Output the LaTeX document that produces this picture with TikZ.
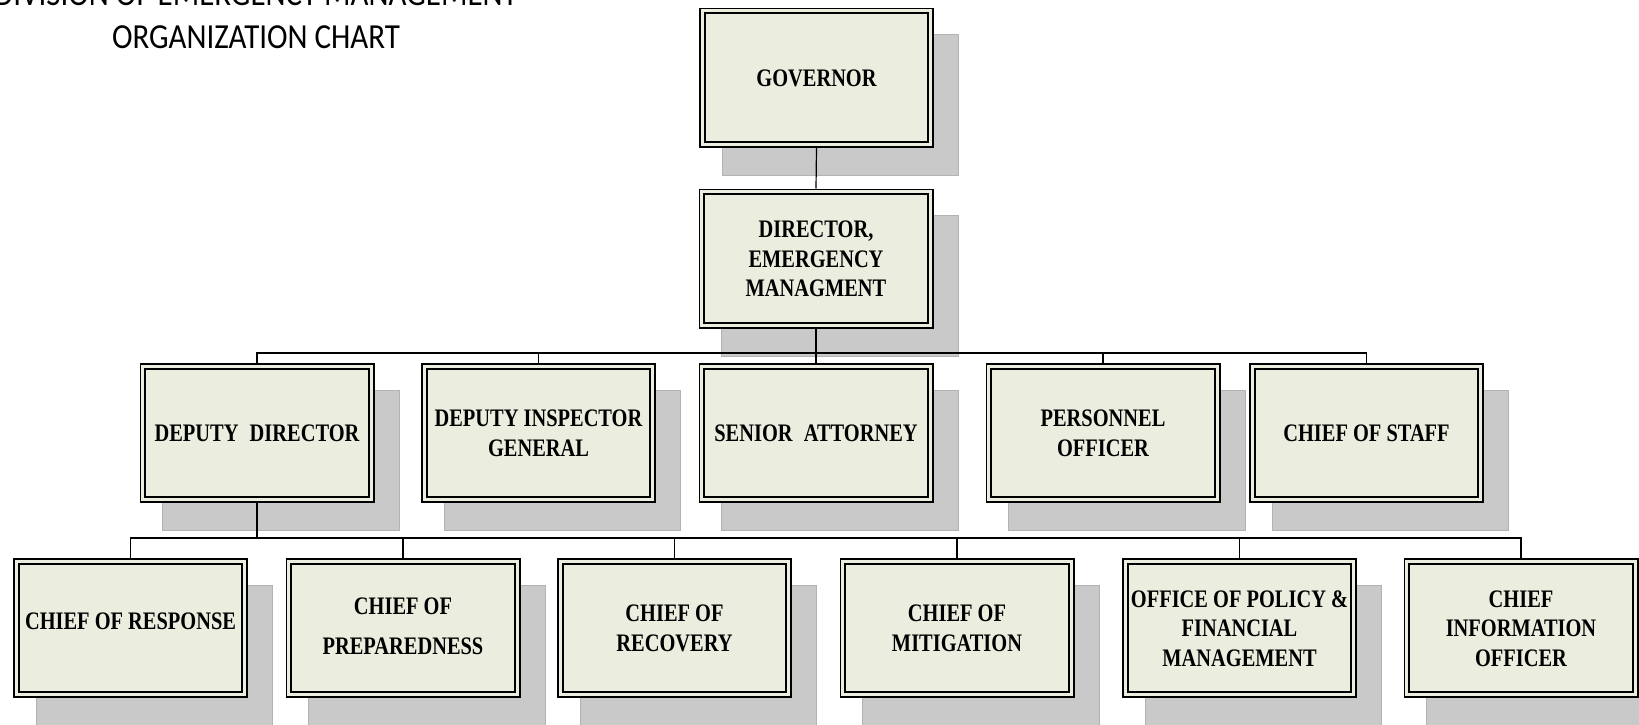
\documentclass[tikz,border=0pt]{standalone}
\usepackage{graphicx}
\usepackage{fontspec}
\newfontfamily\boxfont{Liberation Serif}
\newfontfamily\titlefont{Carlito}
\definecolor{boxfill}{HTML}{EBEDDE}
\definecolor{shadowc}{HTML}{C9C9C9}
\definecolor{shadowedge}{HTML}{B3B3B3}
\pgfdeclarelayer{shadow}
\pgfdeclarelayer{lines}
\pgfsetlayers{shadow,lines,main}
\newcommand{\bxt}[1]{\raisebox{-1.4pt}[\height][\depth]{\scalebox{0.81}[1]{\boxfont\bfseries\fontsize{12.6}{14.7}\selectfont\begin{tabular}{@{}c@{}}#1\end{tabular}}}}
\newcommand{\ttl}[1]{\scalebox{0.88}[1]{\titlefont\fontsize{17.6}{20}\selectfont #1}}
\begin{document}
\begin{tikzpicture}[x=0.5pt,y=-0.5pt,
  orgbox/.style={draw=black, line width=0.9pt, double=boxfill, double distance=1.5pt,
    fill=boxfill, minimum width=114.2pt, minimum height=66.7pt, inner sep=0pt, outer sep=1.65pt},
  conn/.style={line width=0.6pt},
  trunk/.style={line width=1.1pt},
  shadowbox/.style={fill=shadowc, draw=shadowedge, line width=0.5pt},
  titletext/.style={anchor=base, inner sep=0pt}]
\useasboundingbox (0,0) rectangle (1639,724);
\clip (0,0) rectangle (1639,724);

% title
\node[titletext] (t1) at (256,5) {\ttl{DIVISION OF EMERGENCY MANAGEMENT}};
\node[titletext] (t2) at (256,48) {\ttl{ORGANIZATION CHART}};

% level 1-2
\node[orgbox] (gov) at (816.5,77.5) {\bxt{GOVERNOR}};
\node[orgbox] (dir) at (816,258.5) {\bxt{DIRECTOR,\\EMERGENCY\\MANAGMENT}};

% level 3
\node[orgbox] (dd)  at (257,433)    {\bxt{DEPUTY\hspace{0.55em}DIRECTOR}};
\node[orgbox] (dig) at (538.5,433)  {\bxt{DEPUTY INSPECTOR\\GENERAL}};
\node[orgbox] (sa)  at (816,433)    {\bxt{SENIOR\hspace{0.55em}ATTORNEY}};
\node[orgbox] (po)  at (1103,433)   {\bxt{PERSONNEL\\OFFICER}};
\node[orgbox] (cos) at (1366.5,433) {\bxt{CHIEF OF STAFF}};

% level 4
\node[orgbox] (cr)   at (130.5,628)  {\raisebox{3.5pt}[\height][\depth]{\bxt{CHIEF OF RESPONSE}}};
\node[orgbox] (cp)   at (403,628)    {\raisebox{1.2pt}[\height][\depth]{\bxt{CHIEF OF\\[5.2pt]PREPAREDNESS}}};
\node[orgbox] (crec) at (674.5,628)  {\bxt{CHIEF OF\\RECOVERY}};
\node[orgbox] (cm)   at (957,628)    {\bxt{CHIEF OF\\MITIGATION}};
\node[orgbox] (opf)  at (1239.5,628) {\bxt{OFFICE OF POLICY \&\\FINANCIAL\\MANAGEMENT}};
\node[orgbox] (cio)  at (1521,628)   {\bxt{CHIEF\\INFORMATION\\OFFICER}};

\coordinate (b1) at (816,353);
\coordinate (b2) at (257,538);

\begin{pgfonlayer}{shadow}
  \foreach \n in {gov,dir,dd,dig,sa,po,cos,cr,cp,crec,cm,opf,cio}
    \draw[shadowbox] ([shift={(23,27)}]\n.north west) rectangle ([shift={(24.5,27.5)}]\n.south east);
\end{pgfonlayer}

\begin{pgfonlayer}{lines}
  \draw[conn] (gov.south) -- (dir.north);
  \draw[trunk] (dir.south) -- (b1);
  \draw[conn] (b1) -- (sa.north);
  \draw[conn] (dd.north) |- (b1) -| (cos.north);
  \draw[conn] (dig.north) -- (dig.north |- b1);
  \draw[conn] (po.north) -- (po.north |- b1);
  \draw[trunk] (dd.south) -- (b2);
  \draw[conn] (cr.north) |- (b2) -| (cio.north);
  \draw[conn] (cp.north) -- (cp.north |- b2);
  \draw[conn] (crec.north) -- (crec.north |- b2);
  \draw[conn] (cm.north) -- (cm.north |- b2);
  \draw[conn] (opf.north) -- (opf.north |- b2);
\end{pgfonlayer}
\end{tikzpicture}
\end{document}
